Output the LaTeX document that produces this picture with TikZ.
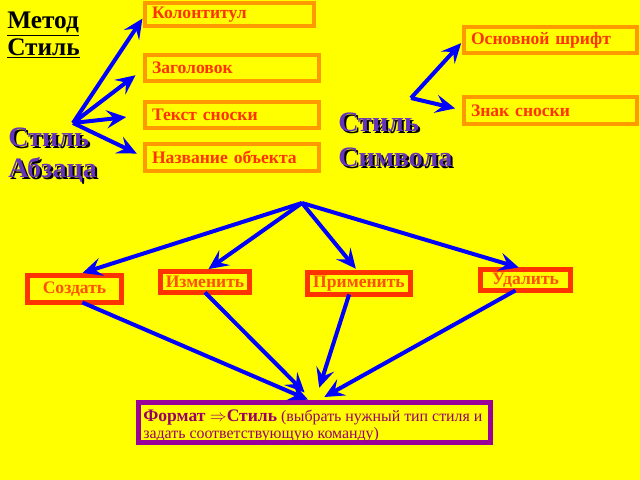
\documentclass[tikz,border=0pt]{standalone}
\usepackage{fontspec}
\setmainfont{Liberation Serif}
\usetikzlibrary{arrows.meta}

\definecolor{jaune}{HTML}{FFFF00}
\definecolor{bleu}{HTML}{0000FF}
\definecolor{orangecadre}{HTML}{FF9900}
\definecolor{rougetexte}{HTML}{FF3300}
\definecolor{rougecadre}{HTML}{FF3300}
\definecolor{textebouton}{HTML}{FF5000}
\definecolor{violetcadre}{HTML}{990099}
\definecolor{violettexte}{HTML}{990066}
\definecolor{mauve}{HTML}{6633BB}

\begin{document}
\begin{tikzpicture}[x=0.025cm, y=-0.025cm,
  fleche/.style={draw=bleu, line width=2.85pt, -{Stealth[length=14pt, width=13pt, inset=5.5pt]}},
  cadre/.style={draw=orangecadre, line width=2.85pt, text=rougetexte, font=\bfseries\fontsize{12.5}{14}\selectfont,
    align=left, inner xsep=5pt, inner ysep=0pt, outer sep=0pt, text width=#1, minimum height=18.5pt},
  bouton/.style={draw=rougecadre, line width=3.55pt, text=textebouton, font=\bfseries\fontsize{12.5}{14}\selectfont,
    inner sep=0pt, outer sep=0pt},
  titre/.style={anchor=base west, inner sep=0pt, text=mauve, font=\bfseries\fontsize{20}{22}\selectfont},
  ombre/.style={titre, text=black},
  methode/.style={anchor=base west, inner sep=0pt, font=\bfseries\fontsize{18}{20}\selectfont}]

  % Fond
  \fill[jaune] (0,0) rectangle (640,480);
  \useasboundingbox (0,0) rectangle (640,480);

  % Titre
  \node[methode] (metod) at (7,29) {\underline{Метод}};
  \node[methode] (stilm) at (7,55) {\underline{Стиль}};

  % Styles de paragraphe
  \node[ombre] (ombA) at (10,148) {Стиль};
  \node[ombre] (ombB) at (10,179) {Абзаца};
  \node[titre] (abzA) at (8,146) {Стиль};
  \node[titre] (abzB) at (8,177) {Абзаца};
  \node[cadre=110pt, minimum height=17pt] (kolon) at (229.5,14.5) {Колонтитул};
  \node[cadre=113.7pt] (zag) at (232,68) {Заголовок};
  \node[cadre=113.7pt] (tekst) at (232,115) {Текст сноски};
  \node[cadre=113.7pt, minimum height=19.2pt] (nazv) at (232,157.5) {Название объекта};
  \coordinate (hubP) at (73,123);
  \draw[fleche, shorten >=3.5pt] (hubP) -- (kolon.west);
  \draw[fleche, shorten >=8.5pt] (hubP) -- (zag.west);
  \draw[fleche, shorten >=13.5pt] (hubP) -- (tekst.west);
  \draw[fleche, shorten >=6.5pt] (hubP) -- (nazv.west);

  % Styles de caractere
  \node[ombre] (ombC) at (340,133) {Стиль};
  \node[ombre] (ombD) at (340,168) {Символа};
  \node[titre] (symA) at (338,131) {Стиль};
  \node[titre] (symB) at (338,166) {Символа};
  \node[cadre=113pt] (osn) at (550.5,40) {Основной шрифт};
  \node[cadre=113pt, minimum height=19.2pt] (znak) at (550.5,110.5) {Знак сноски};
  \coordinate (hubS) at (411,98);
  \draw[fleche, shorten >=3pt] (hubS) -- (osn.west);
  \draw[fleche, shorten >=6.5pt] (hubS) -- (znak.west);

  % Actions
  \node[bouton, minimum width=66.9pt, minimum height=19.2pt] (sozd) at (74.5,289) {Создать};
  \node[bouton, minimum width=63.3pt, minimum height=14.9pt] (izm) at (205,282) {Изменить};
  \node[bouton, minimum width=73.3pt, minimum height=15.6pt] (prim) at (359,283.5) {Применить};
  \node[bouton, minimum width=64pt, minimum height=14.9pt] (udal) at (525.5,280) {Удалить};
  \coordinate (hubB) at (302,203);
  \draw[fleche, shorten >=6pt] (hubB) -- (sozd.north);
  \draw[fleche, shorten >=3pt] (hubB) -- (izm.north);
  \draw[fleche, shorten >=3.5pt] (hubB) -- (prim.north);
  \draw[fleche, shorten >=5pt] (hubB) -- (udal.north);

  % Menu Format
  \node[draw=violetcadre, line width=3.55pt, inner sep=0pt, outer sep=0pt,
    minimum width=250.4pt, minimum height=28.5pt] (fmt) at (314.5,422.5) {};
  \node[anchor=base west, inner sep=0pt, text=violettexte, align=left,
    font=\fontsize{11.3}{12}\selectfont] (fmttxt) at (143,438)
    {{\bfseries\fontsize{12.5}{12}\selectfont Формат $\Rightarrow$Стиль} (выбрать нужный тип стиля и\\задать соответствующую команду)};
  \draw[fleche, shorten >=5pt] (sozd.-60) -- (fmt.north);
  \draw[fleche, shorten >=10pt] (izm.south) -- (fmt.north);
  \draw[fleche, shorten >=11pt] (prim.-132) -- (fmt.north);
  \draw[fleche, shorten >=8pt] (udal.-134) -- (fmt.north);
\end{tikzpicture}
\end{document}
